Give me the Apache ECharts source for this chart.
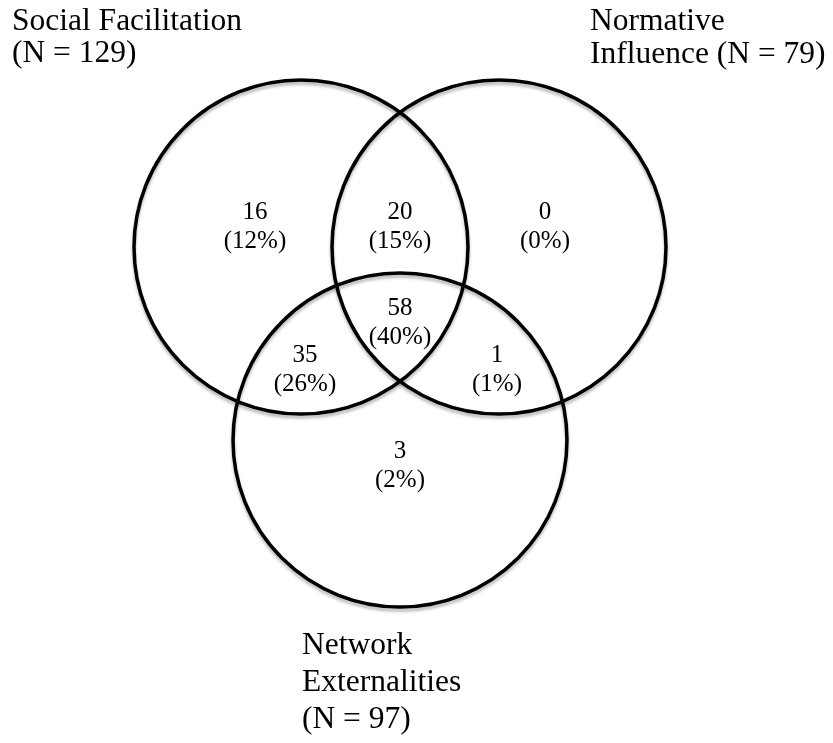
<!DOCTYPE html>
<html>
<head>
<meta charset="utf-8">
<script src="https://cdn.jsdelivr.net/npm/echarts@6/dist/echarts.min.js"></script>
<style>
html,body{margin:0;padding:0;background:#fff;}
#chart{width:833px;height:743px;}
</style>
</head>
<body>
<div id="chart"></div>
<script>
// ---- data ----
const setNames = ['Social Facilitation', 'Normative Influence', 'Network Externalities'];
const setSizes = [129, 79, 97];
// regions: SF only, SF∩NI, NI only, SF∩NI∩NE, SF∩NE, NI∩NE, NE only
const regionNames = ['SF only', 'SF & NI', 'NI only', 'All three', 'SF & NE', 'NI & NE', 'NE only'];
const regionCounts = [16, 20, 0, 58, 35, 1, 3];
const regionPercents = [12, 15, 0, 40, 26, 1, 2];

// ---- layout (chart-space units) ----
const circleLayout = [[301, 247, 167], [499, 247, 167], [400, 440, 167]];
const regionAnchors = [[255, 227], [400, 227], [545, 227], [400, 323], [305, 370], [497, 370], [400, 466]];
const setLabelLayout = [
  {x: 12, y: 22, lh: 32, lines: n => ['Social Facilitation', '(N = ' + n + ')']},
  {x: 590, y: 22, lh: 33, lines: n => ['Normative', 'Influence (N = ' + n + ')']},
  {x: 302, y: 646, lh: 37, lines: n => ['Network', 'Externalities', '(N = ' + n + ')']}
];

const FONT = '"Liberation Serif","Times New Roman",serif';

const chart = echarts.init(document.getElementById('chart'), null, {renderer: 'canvas'});

const circleData = circleLayout.map((c, i) => ({name: setNames[i], value: c}));
const regionData = regionCounts.map((v, i) => ({
  name: regionNames[i],
  value: [regionAnchors[i][0], regionAnchors[i][1], v, regionPercents[i]]
}));
const setLabelData = setNames.map((n, i) => ({
  name: n,
  value: [setLabelLayout[i].x, setLabelLayout[i].y, setSizes[i], i]
}));

chart.setOption({
  animation: false,
  backgroundColor: '#fff',
  grid: {left: 0, right: 0, top: 0, bottom: 0},
  xAxis: {type: 'value', min: 0, max: 833, show: false},
  yAxis: {type: 'value', min: 0, max: 743, inverse: true, show: false},
  series: [
    {
      type: 'custom',
      coordinateSystem: 'cartesian2d',
      data: circleData,
      renderItem: function (params, api) {
        const p = api.coord([api.value(0), api.value(1)]);
        const r = api.size([api.value(2), 0])[0];
        return {
          type: 'circle',
          shape: {cx: p[0], cy: p[1], r: r},
          style: {
            fill: 'none',
            stroke: '#000',
            lineWidth: 3.5,
            shadowColor: 'rgba(0,0,0,0.28)',
            shadowBlur: 3,
            shadowOffsetX: 0,
            shadowOffsetY: 3
          }
        };
      }
    },
    {
      type: 'custom',
      coordinateSystem: 'cartesian2d',
      data: regionData,
      z: 5,
      renderItem: function (params, api) {
        const p = api.coord([api.value(0), api.value(1)]);
        return {
          type: 'text',
          x: p[0],
          y: p[1],
          style: {
            text: api.value(2) + '\n(' + api.value(3) + '%)',
            textAlign: 'center',
            textVerticalAlign: 'middle',
            font: '25px ' + FONT,
            lineHeight: 29,
            fill: '#000'
          }
        };
      }
    },
    {
      type: 'custom',
      coordinateSystem: 'cartesian2d',
      data: setLabelData,
      z: 5,
      renderItem: function (params, api) {
        const i = api.value(3);
        const L = setLabelLayout[i];
        const lines = L.lines(api.value(2));
        const children = lines.map((t, k) => {
          const p = api.coord([api.value(0), api.value(1) + k * L.lh]);
          return {
            type: 'text',
            x: p[0],
            y: p[1],
            style: {
              text: t,
              textAlign: 'left',
              textVerticalAlign: 'middle',
              font: '31.5px ' + FONT,
              fill: '#000'
            }
          };
        });
        return {type: 'group', children: children};
      }
    }
  ]
});
</script>
</body>
</html>
